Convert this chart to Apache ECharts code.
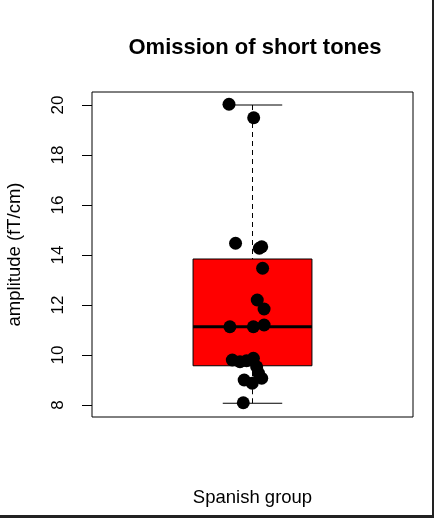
<!DOCTYPE html>
<html>
<head>
<meta charset="utf-8">
<script src="https://cdn.jsdelivr.net/npm/echarts@6/dist/echarts.min.js"></script>
<style>
  html, body { margin: 0; padding: 0; background: #fff; }
  #wrap { width: 434px; height: 518px; box-sizing: border-box;
          border-right: 2px solid #222; border-bottom: 3px solid #222; }
  #chart { width: 432px; height: 515px; }
</style>
</head>
<body>
<div id="wrap"><div id="chart"></div></div>
<script>
// box stats: min whisker, q1, median, q3, max whisker
var boxStats = [8.07, 9.57, 11.13, 13.84, 20.0];
var groupName = 'Spanish group';

// individual subjects (amplitude) and their jittered x position
var amplitudes = [20.03, 19.49, 14.47, 14.27, 14.33, 13.47, 12.2, 11.84, 11.13, 11.13, 11.2,
                  9.8, 9.73, 9.77, 9.87, 9.53, 9.28, 9.07, 9.0, 8.87, 8.09];
var jitterX = [0.921, 1.004, 0.943, 1.023, 1.031, 1.034, 1.016, 1.039, 0.924, 1.003, 1.039,
               0.932, 0.958, 0.980, 1.003, 1.014, 1.020, 1.031, 0.972, 0.999, 0.969];

var yTicks = [8, 10, 12, 14, 16, 18, 20];

var points = [];
for (var i = 0; i < amplitudes.length; i++) {
  points.push([jitterX[i], amplitudes[i]]);
}

var myChart = echarts.init(document.getElementById('chart'));

function renderBox(params, api) {
  var x = api.value(0);
  var lo = api.value(1), q1 = api.value(2), med = api.value(3), q3 = api.value(4), hi = api.value(5);
  var halfBox = 0.2, halfCap = 0.1;
  var pTL = api.coord([x - halfBox, q3]);
  var pBR = api.coord([x + halfBox, q1]);
  var pMedL = api.coord([x - halfBox, med]);
  var pMedR = api.coord([x + halfBox, med]);
  var pHi = api.coord([x, hi]);
  var pLo = api.coord([x, lo]);
  var pQ3 = api.coord([x, q3]);
  var pQ1 = api.coord([x, q1]);
  var capHiL = api.coord([x - halfCap, hi]), capHiR = api.coord([x + halfCap, hi]);
  var capLoL = api.coord([x - halfCap, lo]), capLoR = api.coord([x + halfCap, lo]);
  var thin = { stroke: '#000', lineWidth: 1 };
  var dashed = { stroke: '#000', lineWidth: 1, lineDash: [5, 4] };
  return {
    type: 'group',
    children: [
      { type: 'line', shape: { x1: pHi[0], y1: pHi[1], x2: pQ3[0], y2: pQ3[1] }, style: dashed },
      { type: 'line', shape: { x1: pLo[0], y1: pLo[1], x2: pQ1[0], y2: pQ1[1] }, style: dashed },
      { type: 'line', shape: { x1: capHiL[0], y1: capHiL[1], x2: capHiR[0], y2: capHiR[1] }, style: thin },
      { type: 'line', shape: { x1: capLoL[0], y1: capLoL[1], x2: capLoR[0], y2: capLoR[1] }, style: thin },
      { type: 'rect', shape: { x: pTL[0], y: pTL[1], width: pBR[0] - pTL[0], height: pBR[1] - pTL[1] },
        style: { fill: '#ff0000', stroke: '#000', lineWidth: 1 } },
      { type: 'line', shape: { x1: pMedL[0], y1: pMedL[1], x2: pMedR[0], y2: pMedR[1] },
        style: { stroke: '#000', lineWidth: 3 } }
    ]
  };
}

var option = {
  backgroundColor: '#fff',
  animation: false,
  title: {
    text: 'Omission of short tones',
    left: 250,
    textAlign: 'center',
    top: 32,
    textStyle: { fontFamily: 'Liberation Sans', fontWeight: 'bold', fontSize: 22, color: '#000' }
  },
  grid: {
    left: 92, right: 19, top: 92, bottom: 98,
    outerBoundsMode: 'none',
    containLabel: false,
    show: true, borderColor: '#000', borderWidth: 1, backgroundColor: 'transparent'
  },
  xAxis: {
    type: 'value',
    min: 0.46, max: 1.54,
    name: groupName,
    nameLocation: 'middle',
    nameGap: 71,
    nameTextStyle: { fontFamily: 'Liberation Sans', fontSize: 18.5, color: '#000' },
    axisLine: { show: false },
    axisTick: { show: false },
    axisLabel: { show: false },
    splitLine: { show: false }
  },
  yAxis: {
    type: 'value',
    min: 7.52, max: 20.52,
    name: 'amplitude (fT/cm)',
    nameLocation: 'middle',
    nameGap: 68,
    nameTextStyle: { fontFamily: 'Liberation Sans', fontSize: 18.5, color: '#000' },
    axisLine: { show: false },
    axisTick: { show: true, length: 10, customValues: yTicks, lineStyle: { color: '#000', width: 1 } },
    axisLabel: { rotate: 90, margin: 25, customValues: yTicks,
                 fontFamily: 'Liberation Sans', fontSize: 17, color: '#000' },
    splitLine: { show: false }
  },
  series: [
    {
      type: 'custom',
      renderItem: renderBox,
      data: [[1].concat(boxStats)],
      encode: { x: 0, y: [1, 2, 3, 4, 5] },
      silent: true
    },
    {
      type: 'scatter',
      data: points,
      symbol: 'circle',
      symbolSize: 13,
      itemStyle: { color: '#000', opacity: 1 },
      z: 5
    }
  ]
};

myChart.setOption(option);
</script>
</body>
</html>
